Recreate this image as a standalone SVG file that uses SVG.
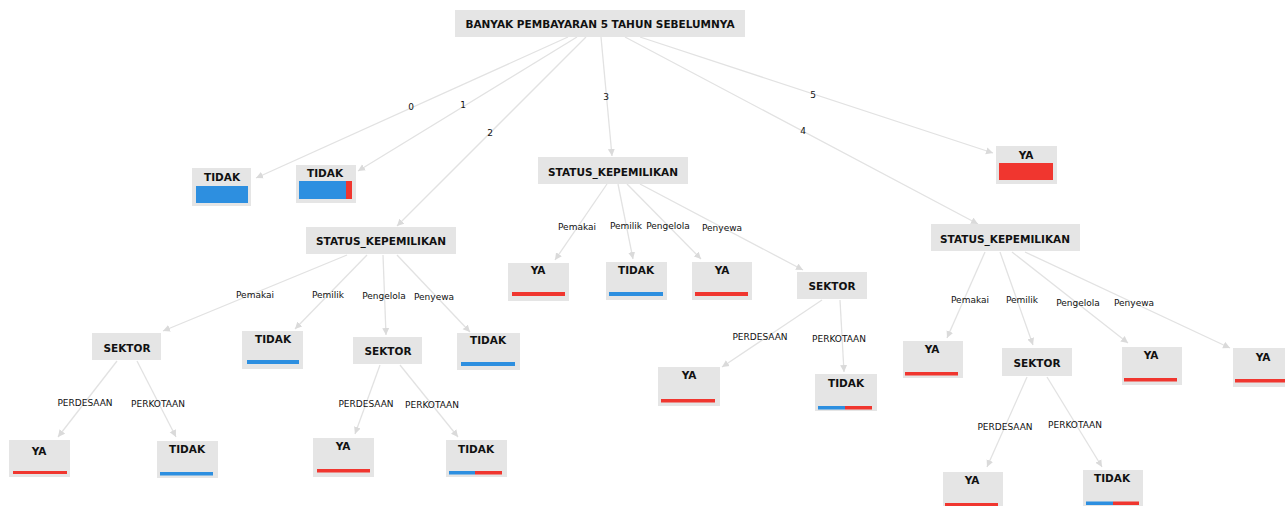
<svg xmlns="http://www.w3.org/2000/svg" width="1285" height="506" viewBox="0 0 1285 506">
<style>
.box{fill:#e5e5e5}
.nt{font-family:"DejaVu Sans",sans-serif;font-weight:bold;font-size:10.5px;fill:#111;text-anchor:middle}
.el{font-family:"DejaVu Sans",sans-serif;font-size:9px;fill:#111;text-anchor:middle}
.e{stroke:#e2e2e2;stroke-width:1.3;fill:none;marker-end:url(#ah)}
.b{fill:#2d8fe0}
.r{fill:#f0362f}
</style>
<defs>
<marker id="ah" markerWidth="8" markerHeight="8" refX="7" refY="4" orient="auto" markerUnits="userSpaceOnUse">
<path d="M0,0.5 L7,4 L0,7.5 z" fill="#dadada"/>
</marker>
</defs>
<rect width="1285" height="506" fill="#fff"/>
<g id="connectors">
<line class="e" x1="568" y1="37" x2="256" y2="178"/>
<line class="e" x1="577" y1="37" x2="358" y2="171"/>
<line class="e" x1="586" y1="37" x2="397" y2="226"/>
<line class="e" x1="601" y1="37" x2="612" y2="156"/>
<line class="e" x1="625" y1="37" x2="978" y2="224"/>
<line class="e" x1="640" y1="37" x2="993" y2="153"/>
<line class="e" x1="347" y1="255" x2="163" y2="331"/>
<line class="e" x1="367" y1="255" x2="295" y2="329"/>
<line class="e" x1="383" y1="255" x2="386" y2="335"/>
<line class="e" x1="397" y1="255" x2="470" y2="332"/>
<line class="e" x1="117" y1="361" x2="58" y2="437"/>
<line class="e" x1="137" y1="361" x2="176" y2="437"/>
<line class="e" x1="380" y1="365" x2="355" y2="434"/>
<line class="e" x1="400" y1="365" x2="458" y2="437"/>
<line class="e" x1="607" y1="184" x2="555" y2="260"/>
<line class="e" x1="618" y1="184" x2="633" y2="259"/>
<line class="e" x1="627" y1="184" x2="701" y2="259"/>
<line class="e" x1="640" y1="184" x2="803" y2="270"/>
<line class="e" x1="822" y1="300" x2="722" y2="367"/>
<line class="e" x1="840" y1="300" x2="844" y2="372"/>
<line class="e" x1="985" y1="252" x2="947" y2="338"/>
<line class="e" x1="1000" y1="252" x2="1033" y2="345"/>
<line class="e" x1="1012" y1="252" x2="1128" y2="343"/>
<line class="e" x1="1025" y1="252" x2="1230" y2="348"/>
<line class="e" x1="1027" y1="377" x2="987" y2="467"/>
<line class="e" x1="1047" y1="377" x2="1102" y2="467"/>
<text class="el" x="411" y="110">0</text>
<text class="el" x="463" y="108">1</text>
<text class="el" x="490" y="136">2</text>
<text class="el" x="606" y="100">3</text>
<text class="el" x="803" y="134">4</text>
<text class="el" x="813" y="98">5</text>
<text class="el" x="255" y="298">Pemakai</text>
<text class="el" x="328" y="298">Pemilik</text>
<text class="el" x="384" y="299">Pengelola</text>
<text class="el" x="434" y="300">Penyewa</text>
<text class="el" x="85" y="406">PERDESAAN</text>
<text class="el" x="158" y="407">PERKOTAAN</text>
<text class="el" x="366" y="407">PERDESAAN</text>
<text class="el" x="432" y="408">PERKOTAAN</text>
<text class="el" x="577" y="230">Pemakai</text>
<text class="el" x="626" y="229">Pemilik</text>
<text class="el" x="668" y="229">Pengelola</text>
<text class="el" x="722" y="231">Penyewa</text>
<text class="el" x="760" y="340">PERDESAAN</text>
<text class="el" x="839" y="342">PERKOTAAN</text>
<text class="el" x="970" y="303">Pemakai</text>
<text class="el" x="1022" y="303">Pemilik</text>
<text class="el" x="1078" y="306">Pengelola</text>
<text class="el" x="1134" y="306">Penyewa</text>
<text class="el" x="1005" y="430">PERDESAAN</text>
<text class="el" x="1075" y="428">PERKOTAAN</text>
</g>
<g id="root"><rect class="box" x="455" y="10" width="290" height="27"/><text class="nt" x="600" y="27.5">BANYAK PEMBAYARAN 5 TAHUN SEBELUMNYA</text></g>
<g id="leaf0"><rect class="box" x="192" y="168" width="59" height="38"/><text class="nt" x="222" y="181">TIDAK</text><rect class="b" x="196" y="186" width="52" height="17"/></g>
<g id="leaf1"><rect class="box" x="296" y="165" width="60" height="38"/><text class="nt" x="325" y="177">TIDAK</text><rect class="b" x="299" y="181" width="47" height="18"/><rect class="r" x="346" y="181" width="6" height="18"/></g>
<g id="status2"><rect class="box" x="306" y="227" width="150" height="27"/><text class="nt" x="381" y="244.5">STATUS_KEPEMILIKAN</text></g>
<g id="sektor2a"><rect class="box" x="92" y="333" width="69" height="27"/><text class="nt" x="127" y="351.5">SEKTOR</text></g>
<g id="tidak2b"><rect class="box" x="242" y="331" width="61" height="38"/><text class="nt" x="273" y="342.5">TIDAK</text><rect class="b" x="247" y="360" width="52" height="4"/></g>
<g id="sektor2c"><rect class="box" x="353" y="337" width="69" height="27"/><text class="nt" x="388" y="355">SEKTOR</text></g>
<g id="tidak2d"><rect class="box" x="457" y="333" width="63" height="37"/><text class="nt" x="488" y="344">TIDAK</text><rect class="b" x="461" y="362" width="54" height="4"/></g>
<g id="ya2a1"><rect class="box" x="9" y="440" width="61" height="37"/><text class="nt" x="39" y="455">YA</text><rect class="r" x="13" y="471" width="54" height="3"/></g>
<g id="tidak2a2"><rect class="box" x="157" y="441" width="61" height="37"/><text class="nt" x="187" y="453">TIDAK</text><rect class="b" x="160" y="472" width="53" height="3.5"/></g>
<g id="ya2c1"><rect class="box" x="313" y="438" width="61" height="39"/><text class="nt" x="343" y="450">YA</text><rect class="r" x="317" y="469" width="53" height="3.5"/></g>
<g id="tidak2c2"><rect class="box" x="446" y="440" width="61" height="37"/><text class="nt" x="476" y="453">TIDAK</text><rect class="b" x="449" y="471" width="26" height="3.5"/><rect class="r" x="475" y="471" width="27" height="3.5"/></g>
<g id="status3"><rect class="box" x="538" y="157" width="150" height="27"/><text class="nt" x="613" y="175.5">STATUS_KEPEMILIKAN</text></g>
<g id="ya3a"><rect class="box" x="508" y="263" width="61" height="38"/><text class="nt" x="538" y="274">YA</text><rect class="r" x="512" y="292" width="53" height="4"/></g>
<g id="tidak3b"><rect class="box" x="606" y="262" width="61" height="38"/><text class="nt" x="636" y="274">TIDAK</text><rect class="b" x="609" y="292" width="54" height="4"/></g>
<g id="ya3c"><rect class="box" x="692" y="262" width="60" height="38"/><text class="nt" x="722" y="274">YA</text><rect class="r" x="695" y="292" width="53" height="4"/></g>
<g id="sektor3d"><rect class="box" x="797" y="272" width="70" height="27"/><text class="nt" x="832" y="290">SEKTOR</text></g>
<g id="ya3d1"><rect class="box" x="658" y="367" width="62" height="39"/><text class="nt" x="689" y="379">YA</text><rect class="r" x="661" y="399" width="54" height="3.5"/></g>
<g id="tidak3d2"><rect class="box" x="815" y="374" width="62" height="37"/><text class="nt" x="846" y="386.5">TIDAK</text><rect class="b" x="818" y="406" width="27" height="3.5"/><rect class="r" x="845" y="406" width="27" height="3.5"/></g>
<g id="ya5"><rect class="box" x="996" y="146" width="61" height="38"/><text class="nt" x="1026" y="158.5">YA</text><rect class="r" x="999" y="163" width="54" height="17"/></g>
<g id="status4"><rect class="box" x="931" y="224" width="149" height="27"/><text class="nt" x="1005" y="242.5">STATUS_KEPEMILIKAN</text></g>
<g id="ya4a"><rect class="box" x="903" y="341" width="60" height="37"/><text class="nt" x="932" y="353">YA</text><rect class="r" x="905" y="372" width="53" height="3.5"/></g>
<g id="sektor4b"><rect class="box" x="1002" y="348" width="70" height="28"/><text class="nt" x="1037" y="366.5">SEKTOR</text></g>
<g id="ya4c"><rect class="box" x="1122" y="347" width="60" height="38"/><text class="nt" x="1151" y="359">YA</text><rect class="r" x="1124" y="378" width="53" height="3.5"/></g>
<g id="ya4d"><rect class="box" x="1233" y="348" width="55" height="39"/><text class="nt" x="1263" y="361">YA</text><rect class="r" x="1235" y="379" width="52" height="3.5"/></g>
<g id="ya4b1"><rect class="box" x="943" y="472" width="60" height="36"/><text class="nt" x="972" y="484">YA</text><rect class="r" x="945" y="503" width="53" height="4"/></g>
<g id="tidak4b2"><rect class="box" x="1083" y="470" width="60" height="36"/><text class="nt" x="1112" y="482">TIDAK</text><rect class="b" x="1086" y="501.5" width="27" height="3.5"/><rect class="r" x="1113" y="501.5" width="26" height="3.5"/></g>
</svg>
